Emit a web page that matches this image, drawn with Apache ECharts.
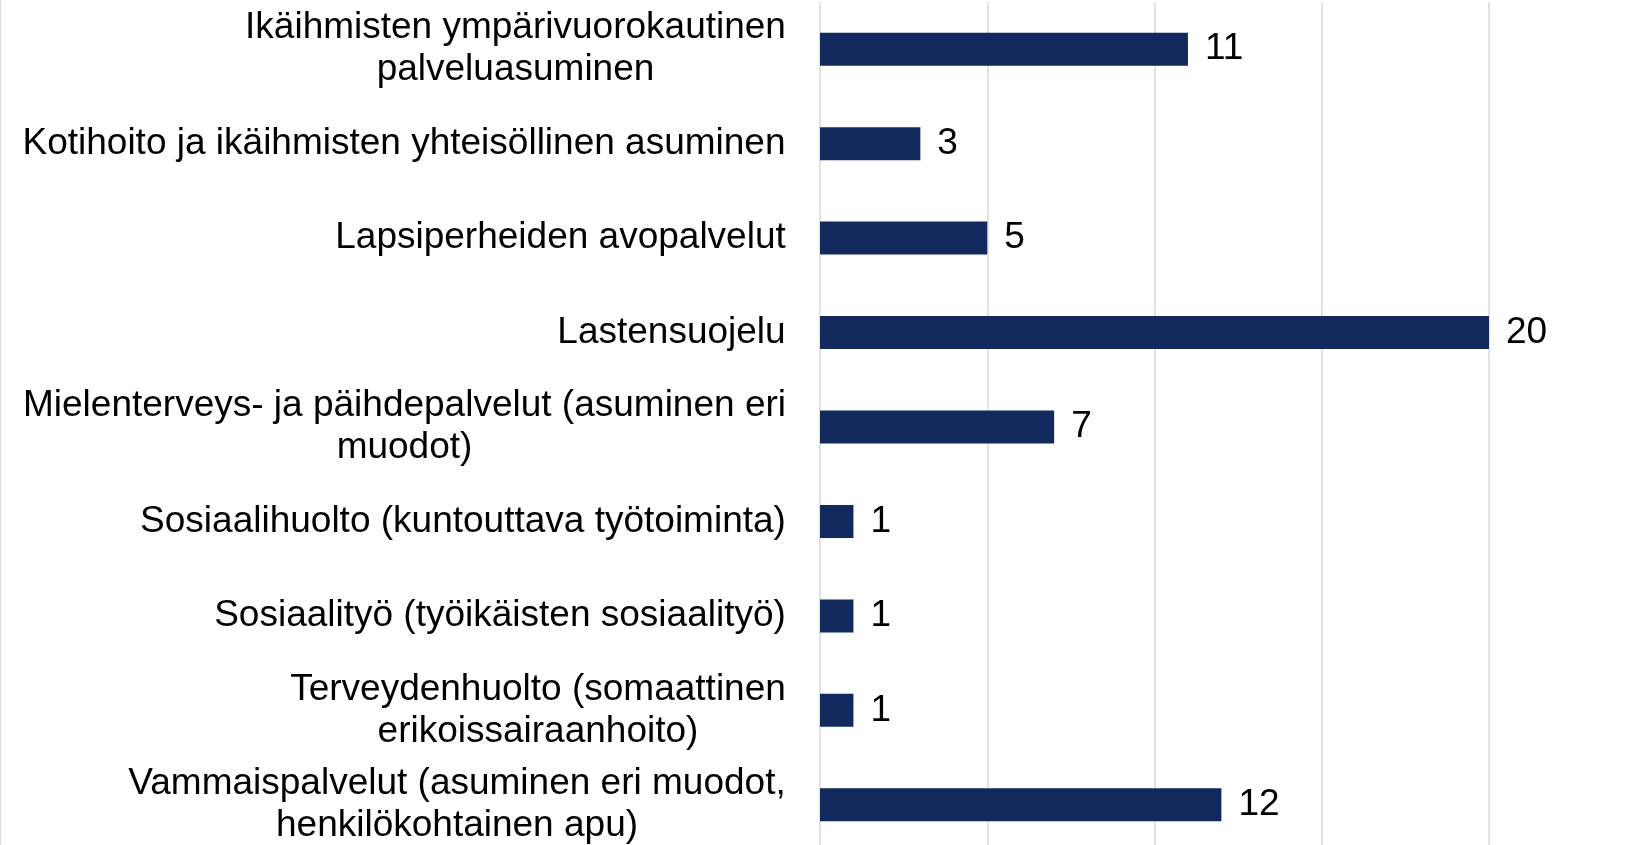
<!DOCTYPE html>
<html>
<head>
<meta charset="utf-8">
<script src="https://cdn.jsdelivr.net/npm/echarts@6/dist/echarts.min.js"></script>
<style>
  html, body { margin: 0; padding: 0; background: #fff; overflow: hidden; }
  #chart { width: 1648px; height: 852px; }
</style>
</head>
<body>
<div id="chart"></div>
<script>
const categories = [
  "Ikäihmisten ympärivuorokautinen\npalveluasuminen",
  "Kotihoito ja ikäihmisten yhteisöllinen asuminen",
  "Lapsiperheiden avopalvelut",
  "Lastensuojelu",
  "Mielenterveys- ja päihdepalvelut (asuminen eri\nmuodot)",
  "Sosiaalihuolto (kuntouttava työtoiminta)",
  "Sosiaalityö (työikäisten sosiaalityö)",
  "Terveydenhuolto (somaattinen\nerikoissairaanhoito)",
  "Vammaispalvelut (asuminen eri muodot,\nhenkilökohtainen apu)"
];
const values = [11, 3, 5, 20, 7, 1, 1, 1, 12];
const axisMin = 0, axisMax = 20, axisInterval = 5;

const FONT = '"Liberation Sans", Arial, sans-serif';
const FS = 37;

// Measure label lines so that multi-line labels are centered inside a right-aligned block
const cv = document.createElement('canvas').getContext('2d');
cv.font = FS + 'px ' + FONT;
const rich = {};
categories.forEach((c, i) => {
  const w = Math.max(...c.split('\n').map(l => cv.measureText(l).width));
  rich['c' + i] = { width: Math.ceil(w), align: 'center', fontSize: FS, fontFamily: FONT, color: '#000', lineHeight: 42 };
});

const chart = echarts.init(document.getElementById('chart'), null, { renderer: 'canvas' });
chart.setOption({
  animation: false,
  backgroundColor: '#fff',
  grid: { left: 820, right: 159, top: 2, bottom: 0, containLabel: false },
  xAxis: {
    type: 'value', min: axisMin, max: axisMax, interval: axisInterval,
    axisLabel: { show: false }, axisTick: { show: false }, axisLine: { show: false },
    splitLine: { show: true, lineStyle: { color: '#d9d9d9', width: 1.5 } }
  },
  yAxis: {
    type: 'category', inverse: true, data: categories,
    axisLine: { show: false }, axisTick: { show: false },
    axisLabel: {
      margin: 34, align: 'right', fontSize: FS, fontFamily: FONT, color: '#000', lineHeight: 42,
      formatter: (v, idx) => v.split('\n').map(l => '{c' + idx + '|' + l + '}').join('\n'),
      rich: rich
    }
  },
  graphic: [{
    type: 'line', shape: { x1: 0.5, y1: 0, x2: 0.5, y2: 852 },
    style: { stroke: '#d8d8e6', lineWidth: 1 }
  }],
  series: [{
    type: 'bar', data: values, barWidth: 33,
    itemStyle: { color: '#12295E' },
    label: { show: true, position: 'right', distance: 17, fontSize: FS, fontFamily: FONT, color: '#000' }
  }]
});
</script>
</body>
</html>
